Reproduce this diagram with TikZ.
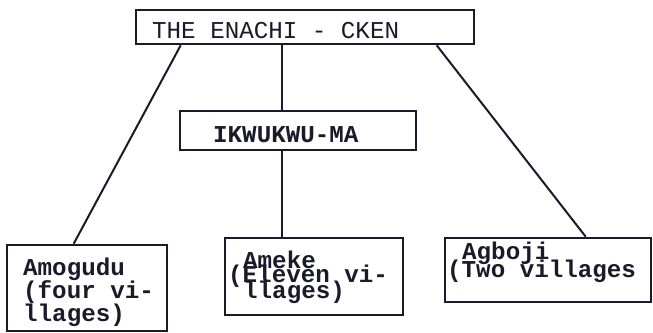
\documentclass[tikz,border=0pt]{standalone}
\usepackage{fontspec}
\setmonofont{Liberation Mono}
\usetikzlibrary{calc}
\definecolor{ink}{RGB}{26,26,42}
\begin{document}
\begin{tikzpicture}[x=1pt,y=-1pt,
  box/.style={draw=ink,line width=2.6pt,rectangle,inner sep=0pt},
  conn/.style={draw=ink,line width=2pt},
  lbl/.style={text=ink,inner sep=0pt,anchor=base west,
    font=\ttfamily\fontsize{24.2}{24}\selectfont},
  heavy/.style={lbl,font=\ttfamily\bfseries\fontsize{24.2}{24}\selectfont}]
  \useasboundingbox[fill=white] (0,0) rectangle (653,332);

  % boxes
  \node[box,minimum width=338pt,minimum height=34pt] (top) at (305,27) {};
  \node[box,minimum width=236pt,minimum height=39pt] (mid) at (298,130.5) {};
  \node[box,minimum width=160pt,minimum height=86pt] (amo) at (87,288) {};
  \node[box,minimum width=178pt,minimum height=77pt] (ame) at (314,276.5) {};
  \node[box,minimum width=206pt,minimum height=64pt] (agb) at (548,270) {};

  % labels
  \node[lbl] (ttop) at (152,38) {THE ENACHI - CKEN};
  \node[heavy] (tmid) at (213,142) {IKWUKWU-MA};
  \node[heavy] (tamo1) at (23,275) {Amogudu};
  \node[heavy] (tamo2) at (23,298) {(four vi-};
  \node[heavy] (tamo3) at (23,321) {llages)};
  \node[heavy] (tame1) at (243,268) {Ameke};
  \node[heavy] (tame2) at (228,282) {(Eleven vi-};
  \node[heavy] (tame3) at (243,298) {llages)};
  \node[heavy] (tagb1) at (462,259) {Agboji};
  \node[heavy] (tagb2) at (447,277) {(Two villages};

  % connectors
  \draw[conn] ($(top.south west)+(46,0)$) -- ($(amo.north west)+(68,0)$);
  \draw[conn] ($(top.south west)+(147,0)$) -- ($(mid.north west)+(103,0)$);
  \draw[conn] ($(mid.south west)+(103,0)$) -- ($(ame.north west)+(58,0)$);
  \draw[conn] ($(top.south west)+(302,0)$) -- ($(agb.north west)+(142,0)$);
\end{tikzpicture}
\end{document}
